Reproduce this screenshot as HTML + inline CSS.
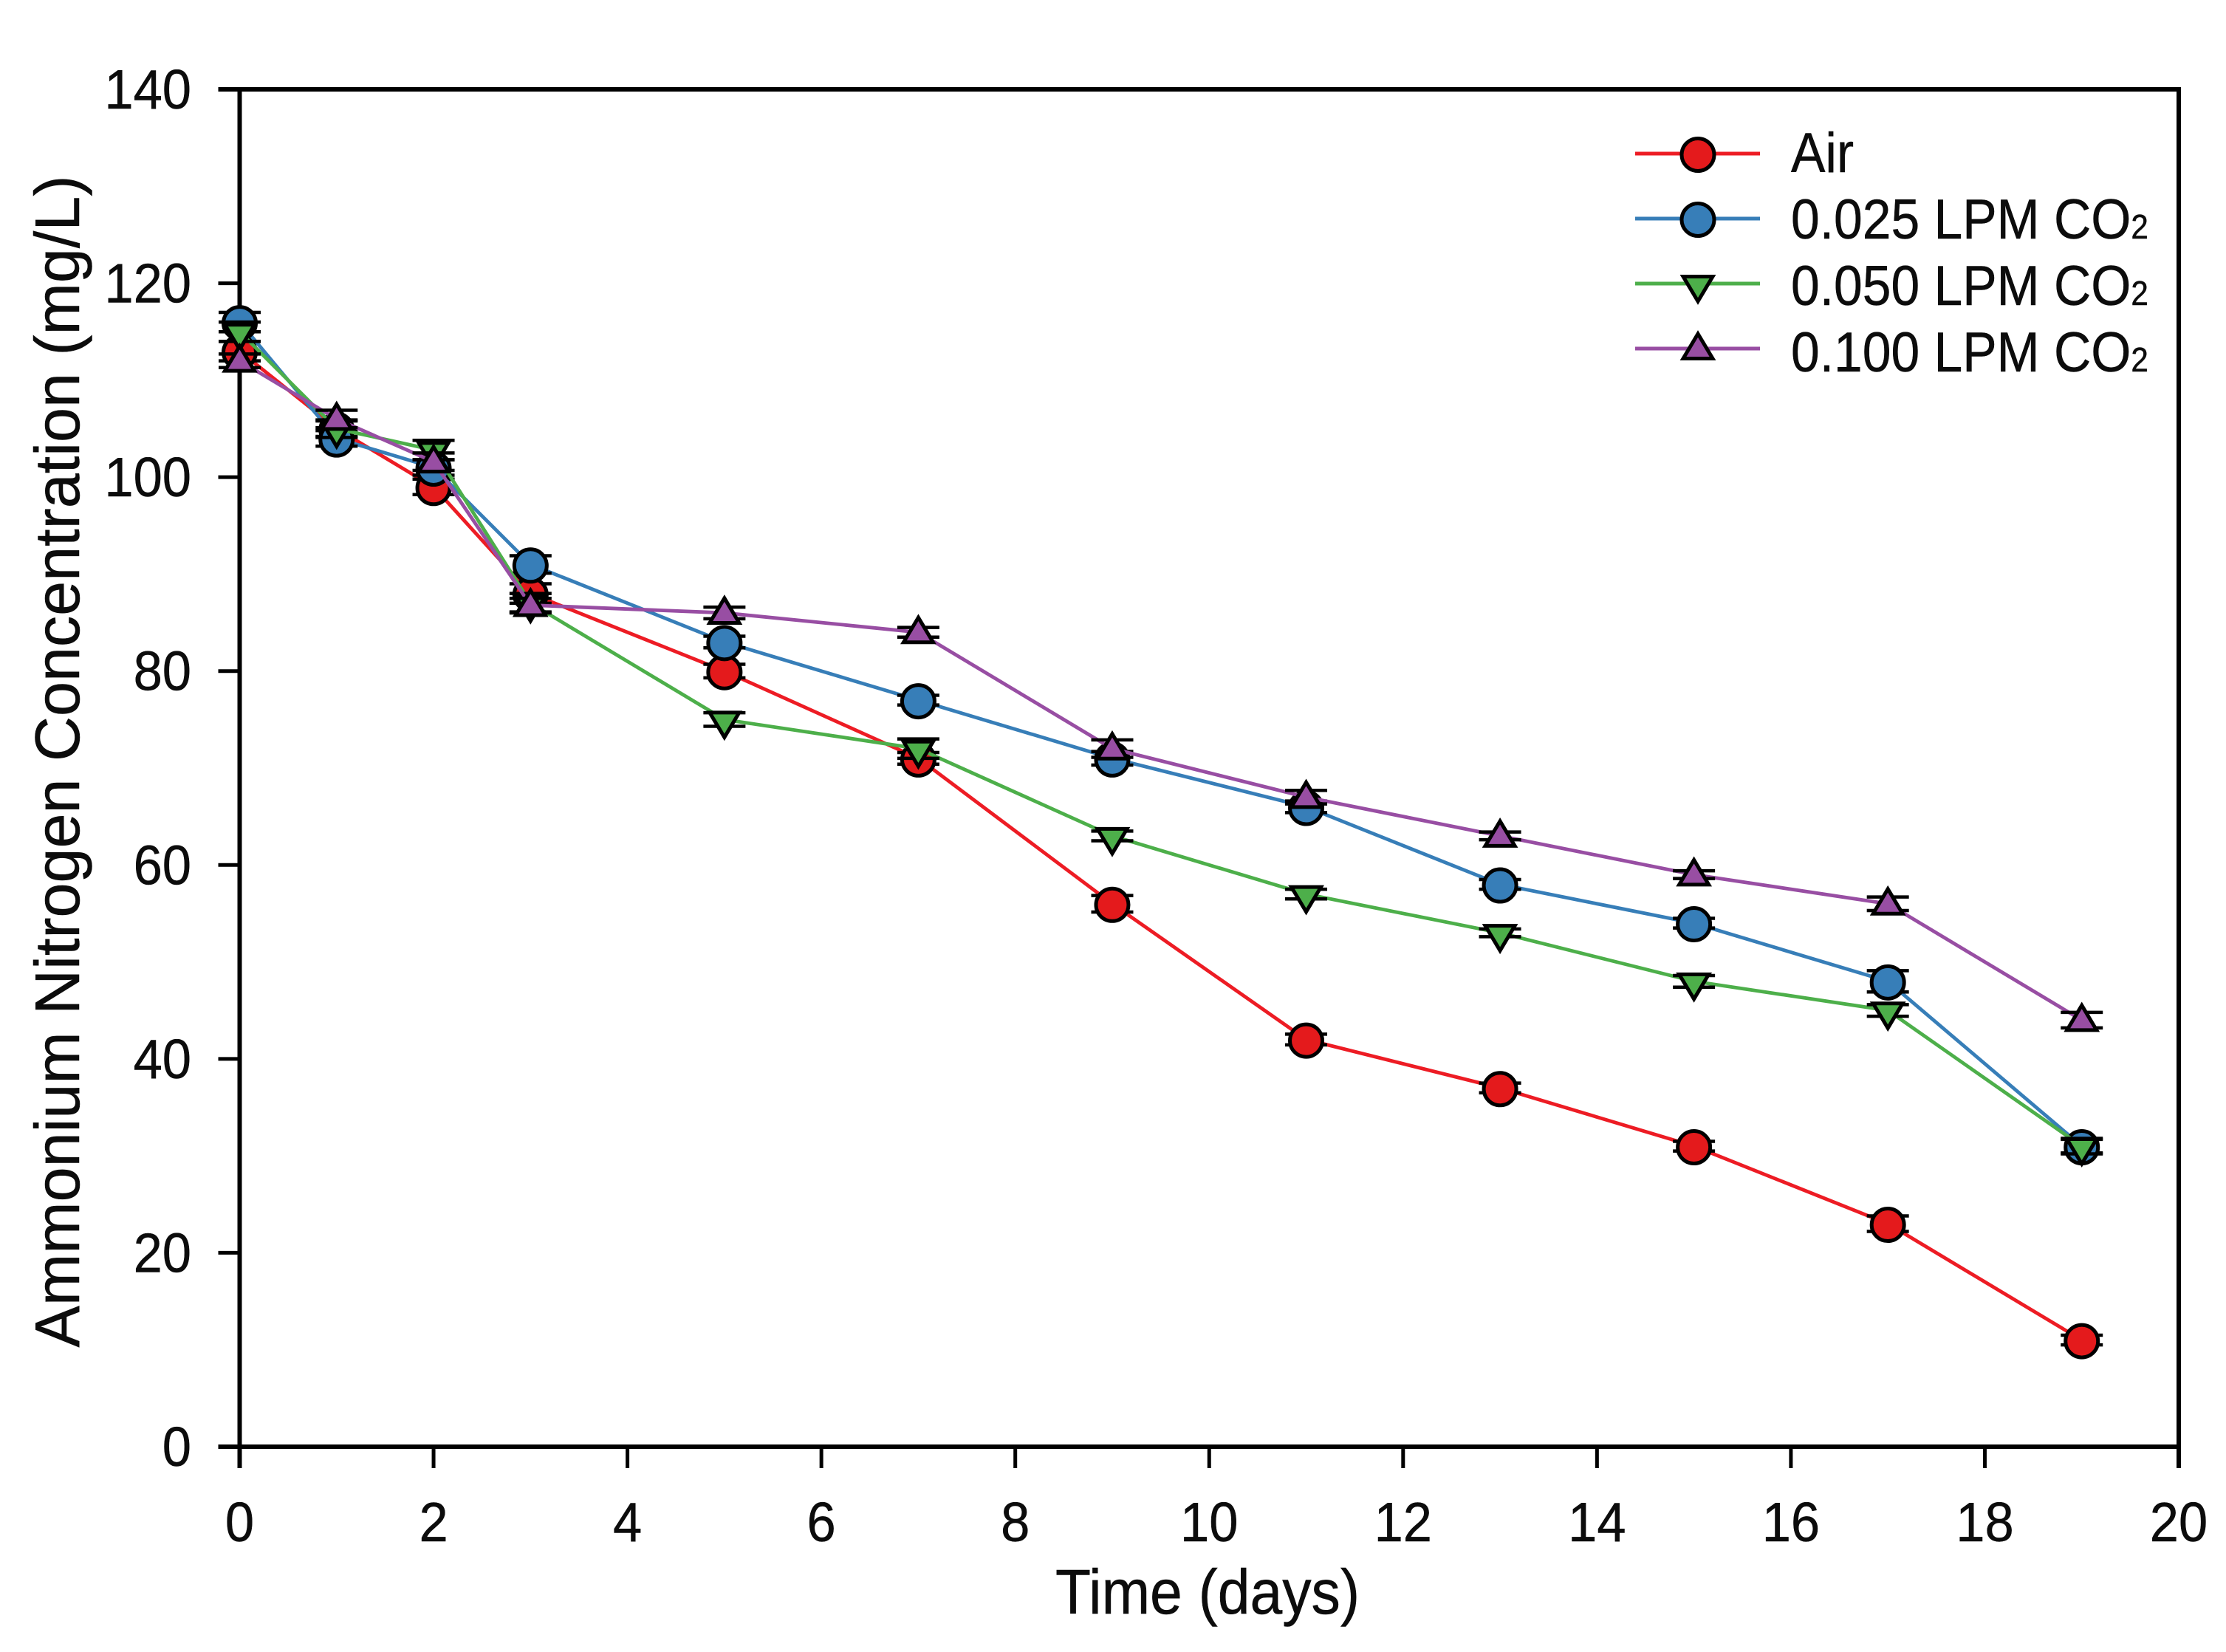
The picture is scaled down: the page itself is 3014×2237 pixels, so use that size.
<!DOCTYPE html>
<html lang="en">
<head>
<meta charset="utf-8">
<title>Ammonium Nitrogen Concentration</title>
<style>
html,body{margin:0;padding:0;background:#fff;}
svg{display:block;}
text{font-family:"Liberation Sans",sans-serif;fill:#0c0c0c;stroke:#0c0c0c;stroke-width:0.5;}
</style>
</head>
<body>
<svg id="chart" xmlns="http://www.w3.org/2000/svg" width="3014" height="2237" viewBox="0 0 3014 2237">
  <rect width="3014" height="2237" fill="#ffffff"/>
  <g id="marks"></g>
  <g id="axes"></g>
  <text transform="translate(107,1031) rotate(-90) scale(0.994,1)" text-anchor="middle" font-size="85">Ammonium Nitrogen Concentration (mg/L)</text>
  <text transform="translate(1635,2185) scale(0.925,1)" text-anchor="middle" font-size="85">Time (days)</text>
  <g id="legend"></g>
</svg>
<script>
const days = [0, 1, 2, 3, 5, 7, 9, 11, 13, 15, 17, 19];
const airValues = [113, 105, 99, 88, 80, 71, 56, 42, 37, 31, 23, 11];
const co2025Values = [116, 104, 101, 91, 83, 77, 71, 66, 58, 54, 48, 31];
const co2050Values = [115, 105, 102.8, 87, 75, 72, 63, 57, 53, 48, 45, 31];
const co2100Values = [112, 106, 101.6, 86.8, 86, 84, 72, 67, 63, 59, 56, 44];
const airErrors = [1.0, 0.8, 0.8, 1.0, 0.7, 0.6, 0.85, 0.55, 0.5, 0.5, 0.8, 0.5];
const co2025Errors = [1.0, 0.8, 0.8, 0.9, 0.6, 0.5, 0.7, 0.6, 0.5, 0.5, 1.1, 0.7];
const co2050Errors = [1.0, 0.9, 1.0, 1.0, 0.7, 1.0, 0.5, 0.5, 0.4, 0.6, 0.6, 0.8];
const co2100Errors = [0.7, 0.9, 0.9, 0.7, 0.6, 0.5, 0.9, 0.7, 0.4, 0.4, 0.7, 0.8];
const seriesLabels = ["Air", "0.025 LPM CO", "0.050 LPM CO", "0.100 LPM CO"];
const xTickLabels = [0, 2, 4, 6, 8, 10, 12, 14, 16, 18, 20];
const yTickLabels = [0, 20, 40, 60, 80, 100, 120, 140];

const SVGNS = "http://www.w3.org/2000/svg";
const xMin = 0, xMax = 20, yMin = 0, yMax = 140;
const plotLeft = 324.5, plotRight = 2950, plotTop = 121, plotBottom = 1959;
const xScale = v => plotLeft + (v - xMin) / (xMax - xMin) * (plotRight - plotLeft);
const yScale = v => plotBottom - (v - yMin) / (yMax - yMin) * (plotBottom - plotTop);

function make(parent, tag, geometry) {
  const node = document.createElementNS(SVGNS, tag);
  for (const key in geometry) node.setAttribute(key, geometry[key]);
  parent.appendChild(node);
  return node;
}

function drawMarker(parent, shape, cx, cy, fill) {
  let node;
  if (shape === "circle") {
    node = make(parent, "circle", {cx: cx, cy: cy + 1.5, r: 22});
  } else if (shape === "down") {
    node = make(parent, "path", {d: `M${cx} ${cy + 24}L${cx + 20} ${cy - 9.5}L${cx - 20} ${cy - 9.5}Z`});
  } else {
    node = make(parent, "path", {d: `M${cx} ${cy - 20}L${cx + 20} ${cy + 13.5}L${cx - 20} ${cy + 13.5}Z`});
  }
  node.setAttribute("fill", fill);
  node.setAttribute("stroke", "#000");
  node.setAttribute("stroke-width", "5");
  node.setAttribute("stroke-miterlimit", "10");
  return node;
}

const seriesList = [
  {key: "air", values: airValues, errors: airErrors, line: "#ed1c24", fill: "#e41a1c", shape: "circle"},
  {key: "co2-025", values: co2025Values, errors: co2025Errors, line: "#377eb8", fill: "#377eb8", shape: "circle"},
  {key: "co2-050", values: co2050Values, errors: co2050Errors, line: "#4daf4a", fill: "#4daf4a", shape: "down"},
  {key: "co2-100", values: co2100Values, errors: co2100Errors, line: "#984ea3", fill: "#984ea3", shape: "up"}
];

const axesLayer = document.getElementById("axes");
const frame = make(axesLayer, "path", {
  d: `M${plotLeft} ${plotTop}V${plotBottom + 29}M${plotRight} ${plotTop - 3}V${plotBottom + 29}M${plotLeft - 29} ${plotTop}H${plotRight + 3}M${plotLeft - 29} ${plotBottom}H${plotRight + 3}`,
  fill: "none", stroke: "#000", "stroke-width": 6
});



yTickLabels.forEach(function (v) {
  const tick = make(axesLayer, "line", {x1: plotLeft - 29, x2: plotLeft, y1: yScale(v), y2: yScale(v), stroke: "#000", "stroke-width": 5});
  
  
  const label = make(axesLayer, "text", {transform: `translate(259,${yScale(v) + 26}) scale(0.94,1)`, "text-anchor": "end", "font-size": 75});
  label.textContent = v;
  
  
});

xTickLabels.forEach(function (v) {
  const tick = make(axesLayer, "line", {x1: xScale(v), x2: xScale(v), y1: plotBottom, y2: plotBottom + 29, stroke: "#000", "stroke-width": 5});
  
  
  const label = make(axesLayer, "text", {transform: `translate(${xScale(v)},2087) scale(0.94,1)`, "text-anchor": "middle", "font-size": 75});
  label.textContent = v;
  
  
});

const marksLayer = document.getElementById("marks");
marksLayer.parentNode.appendChild(marksLayer);
seriesList.forEach(function (s) {
  const group = make(marksLayer, "g", {});
  
  

  const points = days.map((d, i) => xScale(d) + "," + yScale(s.values[i])).join(" ");
  const line = make(group, "polyline", {points: points, fill: "none", stroke: s.line, "stroke-width": 4.8});
  
  

  days.forEach(function (d, i) {
    const px = xScale(d);
    const hi = yScale(s.values[i] + s.errors[i]);
    const lo = yScale(s.values[i] - s.errors[i]);
    const bar = make(group, "path", {
      d: `M${px} ${hi}V${lo}M${px - 28.5} ${hi}H${px + 28.5}M${px - 28.5} ${lo}H${px + 28.5}`,
      fill: "none", stroke: "#000", "stroke-width": 4.5
    });
    
    
  });

  days.forEach(function (d, i) {
    const marker = drawMarker(group, s.shape, xScale(d), yScale(s.values[i]), s.fill);
    
    
  });
});

const legendLayer = document.getElementById("legend");
seriesList.forEach(function (s, i) {
  const entry = make(legendLayer, "g", {});
  
  

  const rowY = 208 + 88 * i;
  const swatch = make(entry, "line", {x1: 2214, x2: 2383, y1: rowY, y2: rowY, stroke: s.line, "stroke-width": 5});
  
  

  const marker = drawMarker(entry, s.shape, 2299, rowY, s.fill);
  
  

  const label = make(entry, "text", {transform: `translate(2425,${233 + 90 * i}) scale(0.916,1)`, "font-size": 76});
  
  
  label.appendChild(document.createTextNode(seriesLabels[i]));
  if (i > 0) {
    const sub = make(label, "tspan", {"font-size": 46});
    sub.textContent = "2";
  }
});
</script>
</body>
</html>
